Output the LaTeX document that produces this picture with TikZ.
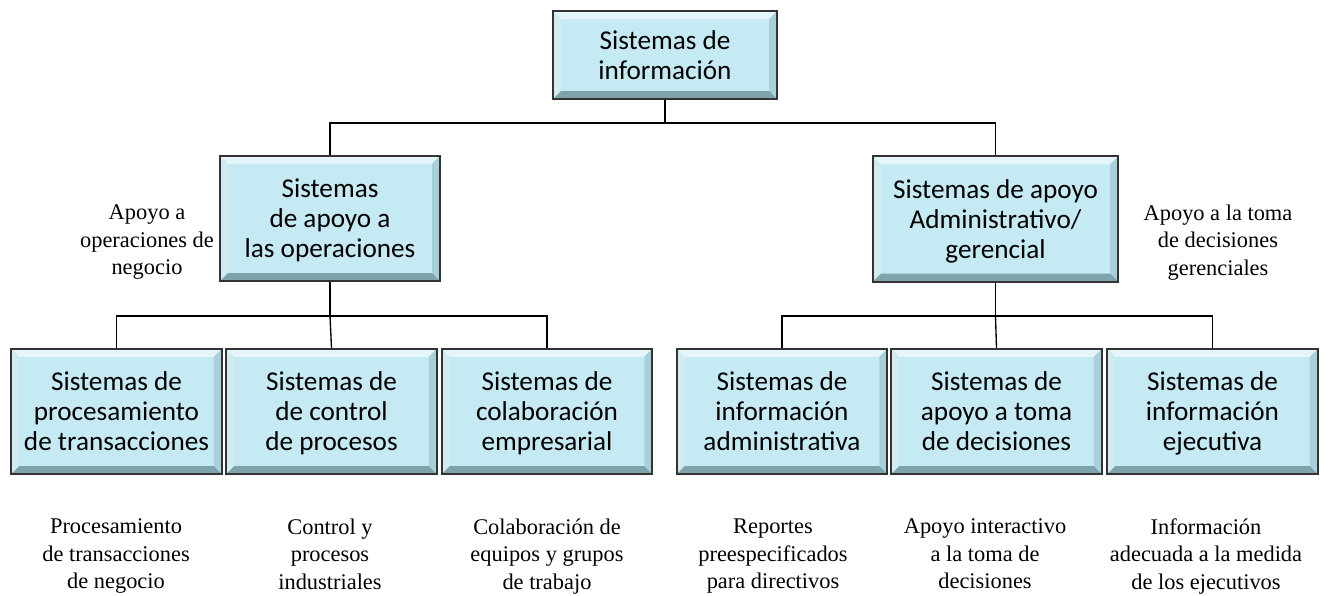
\documentclass[tikz,border=0pt]{standalone}
\usepackage{fontspec}
\setmainfont{Liberation Serif}
\newfontfamily\boxfont{Carlito}

\definecolor{boxfill}{HTML}{C5EAF3}
\definecolor{boxedge}{HTML}{333333}
\definecolor{bevlight}{HTML}{E4F6FA}
\definecolor{bevmid}{HTML}{A8D0D9}
\definecolor{bevdark}{HTML}{7FA3AB}

\tikzset{
  sisbox/.style={draw=boxedge, line width=1.5pt, fill=boxfill, align=center, inner sep=0pt,
    font=\boxfont\fontsize{20.4}{22.5}\selectfont, text depth=0pt,
    path picture={
      \path (path picture bounding box.south west) coordinate (ppsw)
            (path picture bounding box.north east) coordinate (ppne);
      \fill[bevlight] (ppsw |- ppne) -- (ppne) -- ([shift={(-6pt,-6pt)}]ppne)
            -- ([shift={(6pt,-6pt)}]ppsw |- ppne) -- cycle;
      \fill[bevlight!70!bevmid] (ppsw) -- (ppsw |- ppne) -- ([shift={(6pt,-6pt)}]ppsw |- ppne)
            -- ([shift={(6pt,6pt)}]ppsw) -- cycle;
      \fill[bevmid] (ppne) -- (ppne |- ppsw) -- ([shift={(-6pt,6pt)}]ppne |- ppsw)
            -- ([shift={(-6pt,-6pt)}]ppne) -- cycle;
      \fill[bevdark] (ppsw) -- (ppne |- ppsw) -- ([shift={(-6pt,6pt)}]ppne |- ppsw)
            -- ([shift={(6pt,6pt)}]ppsw) -- cycle;
    }},
  topbox/.style={sisbox, minimum width=168pt, minimum height=66pt, text depth=-4pt},
  midbox/.style={sisbox, minimum width=165pt, minimum height=94pt, text depth=-5pt},
  lowbox/.style={sisbox, minimum width=158pt, minimum height=94pt, text depth=-2pt},
  note/.style={align=center, font=\fontsize{16.8}{20.6}\selectfont, text depth=0pt},
  conn/.style={line width=1pt}
}

\begin{document}
\begin{tikzpicture}[x=0.75pt, y=-0.75pt]
    \useasboundingbox (0,0) rectangle (1335,596);

    \node[topbox] (info) at (665,55) {Sistemas de\\información};

    \node[midbox] (oper) at (330,218.5) {Sistemas\\de apoyo a\\las operaciones};
    \node[midbox, minimum width=184pt] (geren) at (995.5,219) {Sistemas de apoyo\\Administrativo/\\gerencial};

    \node[lowbox] (tps) at (116.5,411.5) {Sistemas de\\procesamiento\\de transacciones};
    \node[lowbox] (pcs) at (331.5,411.5) {Sistemas de\\de control\\de procesos};
    \node[lowbox] (ecs) at (547,411.5) {Sistemas de\\colaboración\\empresarial};
    \node[lowbox] (mis) at (782,411.5) {Sistemas de\\información\\administrativa};
    \node[lowbox] (dss) at (996.5,411.5) {Sistemas de\\apoyo a toma\\de decisiones};
    \node[lowbox] (eis) at (1212.5,411.5) {Sistemas de\\información\\ejecutiva};

    % conectores
    \coordinate (j0) at (665,123);
    \coordinate (j1) at (330,316);
    \coordinate (j2) at (995.5,316);
    \draw[conn] (info.south) -- (j0);
    \draw[conn] (oper.north) |- (j0) -| (geren.north);
    \draw[conn] (oper.south) -- (j1);
    \draw[conn] (tps.north) |- (j1) -| (ecs.north);
    \draw[conn] (j1) -- (pcs.north);
    \draw[conn] (geren.south) -- (j2);
    \draw[conn] (mis.north) |- (j2) -| (eis.north);
    \draw[conn] (j2) -- (dss.north);

    \node[note] (n-oper) at (147,240) {Apoyo a\\operaciones de\\negocio};
    \node[note] (n-geren) at (1218,240) {Apoyo a la toma\\de decisiones\\gerenciales};

    \node[note] (n-tps) at (116,554) {Procesamiento\\de transacciones\\de negocio};
    \node[note] (n-pcs) at (330,554) {Control y\\procesos\\industriales};
    \node[note] (n-ecs) at (547,554) {Colaboración de\\equipos y grupos\\de trabajo};
    \node[note] (n-mis) at (773,554) {Reportes\\preespecificados\\para directivos};
    \node[note] (n-dss) at (985,554) {Apoyo interactivo\\a la toma de\\decisiones};
    \node[note] (n-eis) at (1206,554) {Información\\adecuada a la medida\\de los ejecutivos};
\end{tikzpicture}
\end{document}
